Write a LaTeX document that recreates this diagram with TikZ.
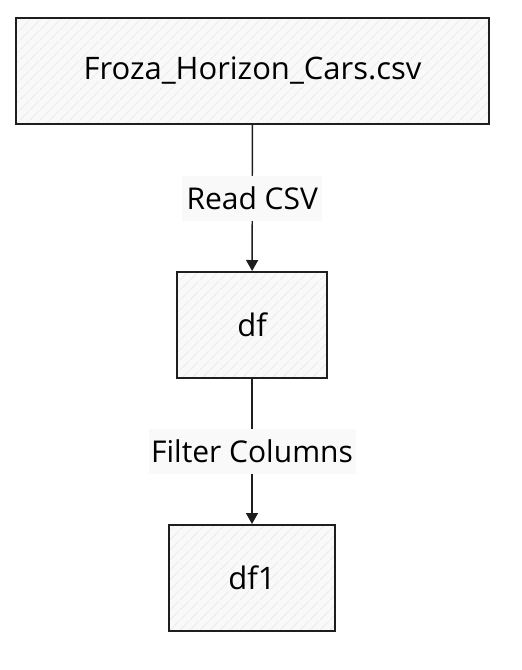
\documentclass[tikz,border=0pt]{standalone}
\usepackage{fontspec}
\setmainfont{Open Sans}
\usetikzlibrary{arrows.meta,patterns.meta}
\definecolor{ink}{HTML}{1E1E1E}
\definecolor{boxfill}{HTML}{F9F9F9}
\definecolor{hatch}{HTML}{EBEBEB}
\tikzdeclarepattern{
  name=hachure,
  type=uncolored,
  bottom left={(0pt,0pt)},
  top right={(10pt,10pt)},
  tile size={(10pt,10pt)},
  code={\draw[line width=0.8pt] (0pt,0pt) -- (10pt,10pt);}
}
\tikzset{
  stage/.style={preaction={fill=boxfill},
    preaction={pattern=hachure,pattern color=hatch},
    draw=ink,line width=2pt,
    minimum height=106pt,inner sep=0pt,font=\fontsize{31}{36}\selectfont},
  lbl/.style={fill=boxfill,inner sep=0pt,minimum height=45pt,font=\fontsize{30}{34}\selectfont},
  flow/.style={draw=ink,line width=1.4pt,-{Triangle[length=11pt,width=12pt]}}
}
\begin{document}
\begin{tikzpicture}[x=1pt,y=-1pt]
	\useasboundingbox (0,0) rectangle (522,670);
	\node[stage,minimum width=473pt] (csv) at (252.5,71) {Froza\_Horizon\_Cars.csv};
	\node[stage,minimum width=150pt] (df) at (252,325) {df};
	\node[stage,minimum width=166pt] (dfone) at (252,578) {df1};
	% edges with their labels
	\draw[flow] (csv) -- (df) node[lbl,midway,minimum width=140pt] (read) {Read CSV};
	\draw[flow] (df) -- (dfone) node[lbl,midway,minimum width=207pt] (filter) {Filter Columns};
\end{tikzpicture}
\end{document}
